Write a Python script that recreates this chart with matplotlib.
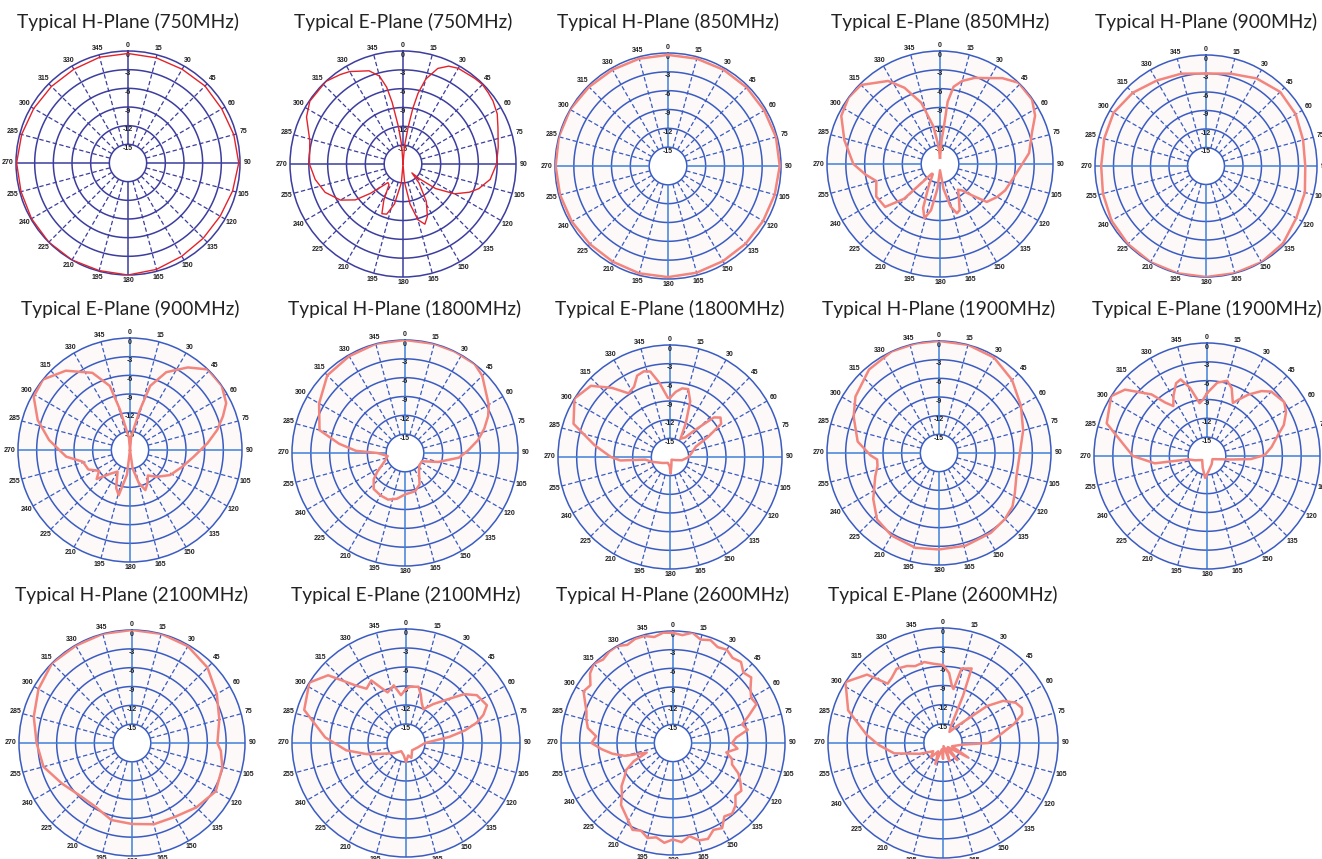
import numpy as np
import matplotlib.pyplot as plt

# panel titles
titles = ["Typical H-Plane (750MHz)", "Typical E-Plane (750MHz)", "Typical H-Plane (850MHz)",
          "Typical E-Plane (850MHz)", "Typical H-Plane (900MHz)", "Typical E-Plane (900MHz)",
          "Typical H-Plane (1800MHz)", "Typical E-Plane (1800MHz)", "Typical H-Plane (1900MHz)",
          "Typical E-Plane (1900MHz)", "Typical H-Plane (2100MHz)", "Typical E-Plane (2100MHz)",
          "Typical H-Plane (2600MHz)", "Typical E-Plane (2600MHz)"]

angle_ticks = list(range(0, 360, 15))
ring_levels = [0, -3, -6, -9, -12, -15]

# pattern data, angle (deg) / gain (dB)
h750_deg = list(range(0, 360, 15))
h750_db = [-0.4, -0.5, -0.6, -0.5, -0.6, -0.4, -0.2, -0.6, -0.9, -0.9, -0.7, -0.3,
           0.0, -0.1, 0.0, 0.0, -0.1, -0.2, -0.1, -0.3, -0.5, -0.6, -0.6, -0.4]

e750_deg = [0, 5, 8, 10, 12, 15, 20, 25, 30, 40, 45, 50, 55, 62, 69, 80, 90, 100, 108, 113,
            120, 127, 132, 135, 140, 148, 155, 160, 165, 170, 175, 180, 185, 192, 198, 203,
            208, 214, 219, 223, 228, 233, 240, 250, 260, 270, 284, 296, 304, 317, 325, 330,
            340, 345, 348, 350, 353, 356]
e750_db = [-18, -15, -12, -9, -6.5, -4, -1.8, -0.8, -0.4, -0.2, -0.1, -0.3, -0.5, -1.0, -1.8,
           -2.6, -3.1, -3.9, -5.3, -6.5, -8.5, -11.5, -14.5, -16, -14, -11, -8.8, -7.8, -8.8,
           -11.5, -15, -18, -15, -11.5, -9.6, -9.4, -11.5, -14, -14.2, -13.2, -11, -8.5, -6.5,
           -4.8, -3.8, -3.1, -2.7, -0.9, -0.1, 0.0, -0.6, -1.0, -2.2, -3.5, -5.5, -8, -12, -15]

h850_deg = list(range(0, 360, 15))
h850_db = [-0.3, -0.3, -0.3, -0.3, -0.3, -0.2, -0.2, -0.4, -0.5, -0.5, -0.5, -0.4,
           -0.3, -0.3, -0.4, -0.4, -0.3, -0.2, -0.1, 0.0, 0.0, -0.2, -0.3, -0.3]

e850_deg = [0, 4, 6, 7, 10, 15, 22, 28, 36, 44, 55, 63, 71, 83, 90, 102, 112, 120, 129, 134,
            140, 145, 150, 157, 161, 166, 172, 180, 186, 191, 196, 201, 207, 215, 220, 226,
            232, 243, 255, 262, 270, 284, 296, 306, 315, 328, 335, 343, 350, 355]
e850_db = [-17, -14, -12, -8, -5.5, -4.3, -3.2, -2.5, -1.1, 0.0, -0.1, -1.0, -2.5, -3.7, -4.9,
           -6.2, -6.8, -7.5, -8.4, -10.7, -12.5, -13, -12, -10, -9.7, -11, -14, -17, -14,
           -10.5, -9, -10.5, -14, -16, -16, -10, -6.9, -6.6, -7.5, -6, -4.2, -2.3, -0.5, 0.0,
           -0.2, -2.4, -4.6, -7.8, -11.9, -15]

h900_deg = list(range(0, 360, 15))
h900_db = [-3.0, -2.5, -1.6, -1.0, -1.2, -1.7, -1.9, -1.4, -1.1, -0.3, 0.0, 0.0,
           0.0, 0.0, 0.0, -0.1, -0.3, -0.7, -1.0, -0.9, -0.7, -1.2, -2.0, -2.5]

e900_deg = [0, 5, 9.5, 14, 17.5, 25, 35, 44, 55, 64, 70, 77, 85, 96, 108, 122, 135, 145, 152,
            159, 165, 172, 180, 187, 194, 200, 210, 220, 229, 236, 245, 256, 264, 277, 288,
            299, 309, 321, 334, 342.5, 346, 350, 355]
e900_db = [-18, -16, -14.7, -11.3, -7.2, -4.2, -1.8, 0.0, 0.0, -0.8, -2.1, -3.6, -5.5, -7.7,
           -9.2, -10.4, -11.9, -13, -12, -11.1, -12.5, -15, -18, -14, -10.5, -11.5, -14, -13,
           -10.9, -12, -10.6, -10.2, -7.7, -4.9, -2.4, -0.3, 0.0, -1.6, -4.2, -7.2, -11.3,
           -14.7, -16]

h1800_deg = [0, 15, 26, 38, 45, 51, 60, 66, 73, 80, 88, 95, 105, 116, 130, 143, 155, 165, 180,
             190, 200, 210, 221, 230, 236, 248, 260, 270, 272.5, 278, 285, 300, 315, 330, 345]
h1800_db = [0.0, 0.0, 0.0, 0.0, -0.6, -1.6, -2.6, -3.5, -4.8, -6.2, -8, -9.4, -12.5, -15, -15,
            -14.3, -12.5, -11.7, -11.4, -10.6, -10.1, -10.2, -10.4, -11.5, -12.7, -14.5, -15.2,
            -13.6, -10.2, -7.4, -3.9, -2.2, -0.5, -0.2, 0.0]

e1800_deg = [0, 5, 10, 15, 20, 25, 30, 38, 43, 48, 52, 57, 62, 68, 80, 90, 105, 120, 150, 172,
             178, 182, 200, 230, 255, 264, 266, 270, 279, 289, 301.5, 312, 320, 327, 333, 338,
             343, 347, 352, 358]
e1800_db = [-8.5, -7.5, -6.8, -6.7, -8.5, -12, -14.6, -14, -12, -8.5, -7.7, -8.2, -11, -13.5,
            -14.5, -15, -16, -17, -17.5, -16.5, -15.3, -16.5, -17, -16.5, -15, -14, -10, -8.5,
            -5.7, -1.6, 0.0, -0.9, -3.5, -5.8, -5.3, -3.9, -3.6, -3.9, -6, -8.5]

h1900_deg = [0, 15, 30, 45, 60, 75, 90, 107, 118, 126, 135, 147, 164, 180, 194, 210, 223, 235,
             250, 258, 264, 268, 278, 293, 304, 320, 335, 348]
h1900_db = [0.0, 0.0, -0.3, -1.4, -2.8, -4, -5, -5, -4.2, -3.4, -3, -2.7, -2.5, -2.5, -2.3,
            -2.7, -3.4, -5.1, -7.1, -7.9, -8, -7, -4.8, -3.1, -1.8, -0.5, 0.0, 0.0]

e1900_deg = [0, 8, 15, 20, 26, 30, 34, 40, 45, 55, 61, 68, 74, 82, 89, 94, 98, 105, 120, 150,
             175, 185, 200, 230, 250, 260, 262, 270, 277, 288, 302, 309, 318, 322, 326, 331,
             337, 341, 346, 352, 356]
e1900_db = [-8, -6.2, -5.6, -6.5, -8.6, -7.5, -6.2, -4.5, -3.5, -3.0, -3.6, -4.8, -6.3, -7.6,
            -8.8, -11, -14, -16, -17, -16.5, -15.5, -14.5, -16, -17, -16, -14.9, -9.6, -6.2,
            -4.8, -1.2, 0.0, -1.2, -4.8, -7.2, -8.4, -7, -5.4, -5.1, -6.8, -9.5, -9]

h2100_deg = [0, 15, 30, 45, 60, 75, 90, 95, 105, 120, 135, 150, 165, 180, 195, 210, 225, 240,
             255, 270, 285, 300, 315, 330, 345]
h2100_db = [0.0, 0.0, -0.2, -1.0, -2.4, -3.6, -4.4, -3.8, -3.1, -2.6, -3.5, -4.4, -4.6, -5.1,
            -5.3, -6.3, -6.2, -5.1, -3.4, -2.8, -1.8, -0.8, 0.0, -0.1, 0.0]

e2100_deg = [0, 4, 12.5, 17, 21, 27, 35, 44.5, 50, 56, 65, 70, 74, 78, 82, 90, 110, 140, 160,
             170, 180, 190, 210, 230, 245, 254, 263, 274, 288, 302, 311, 319, 324, 331, 336,
             340, 348, 354]
e2100_db = [-9.5, -9.1, -8.9, -10, -11.1, -12, -10.5, -8.2, -6, -4.5, -3.9, -5, -6.4, -8.5,
            -11.1, -15, -16, -16.5, -15.5, -16, -15, -16, -16.5, -15.5, -14, -11.6, -8.5, -5.2,
            -1.1, 0.0, -1.7, -6, -7.4, -6.7, -8.5, -9.5, -8.7, -10.4]

h2600_deg = list(range(0, 360, 5))
h2600_db = [-0.3, -0.6, 0.0, -0.8, -0.4, -1.0, -0.7, -1.3, -1.0, -2.0, -1.6, -2.8, -3.5, -3.2,
            -5.0, -6.5, -5.8, -7.8, -8.5, -7.6, -9.3, -8.2, -7.9, -6.4, -5.5, -4.6, -4.9, -3.8,
            -3.2, -3.6, -2.2, -2.6, -1.6, -1.8, -2.8, -2.0, -2.5, -1.9, -2.6, -2.2, -3.0, -2.6,
            -3.6, -4.4, -5.0, -6.4, -7.2, -8.5, -9.3, -11, -13.5, -10, -8.1, -6.5, -4.9, -5.6,
            -4.1, -3.6, -3.2, -2.4, -1.4, -1.8, -0.6, 0.0, -0.5, -0.1, 0.0, -0.6, -0.2, -0.2,
            -0.7, -0.2]

e2600_deg = [0, 5, 9, 11, 14, 21, 23, 25, 30, 40, 50, 55, 61, 66, 70, 75, 82, 90, 95, 110, 120,
             130, 140, 150, 160, 170, 180, 190, 200, 210, 220, 230, 245, 258, 268, 276, 289,
             302, 312, 317, 322, 328, 335, 340, 347, 353]
e2600_db = [-5.8, -7, -9, -9.4, -6, -5.5, -10, -15, -16, -14.5, -9, -6.5, -5, -4.5, -4.8, -6.5,
            -9, -10.9, -15, -16.5, -13.5, -17, -14.5, -17, -15, -17.5, -15.5, -17, -14.5,
            -16.5, -15, -16, -14, -10.2, -8, -6, -2.3, 0.0, -2, -5.3, -5, -4.3, -4.7, -5.2,
            -5, -5.5]

series_deg = [h750_deg, e750_deg, h850_deg, e850_deg, h900_deg, e900_deg, h1800_deg,
              e1800_deg, h1900_deg, e1900_deg, h2100_deg, e2100_deg, h2600_deg, e2600_deg]
series_db = [h750_db, e750_db, h850_db, e850_db, h900_db, e900_db, h1800_db,
             e1800_db, h1900_db, e1900_db, h2100_db, e2100_db, h2600_db, e2600_db]

# pixel layout of each chart: centre x, centre y, radius, title y
W, H = 1322, 859
layout = [(128, 163, 112, 22), (403, 164, 113, 22), (668, 166, 113, 22), (940, 164, 113, 22),
          (1206, 166, 111, 22), (130, 450, 112, 309), (405, 453, 113, 309), (670, 457, 112, 309),
          (939, 453, 112, 309), (1207, 456, 113, 309), (132, 743, 113, 595), (406, 743, 114, 595),
          (673, 743, 112, 595), (943, 743, 115, 595)]

fig = plt.figure(figsize=(W / 100, H / 100), dpi=100)
full = np.linspace(0, 2 * np.pi, 361)
lab_font = dict(fontsize=5, fontweight='bold', family='Liberation Sans', color='#222222',
                ha='center', va='center')

for i in range(14):
    cx, cy, rad, ty = layout[i]
    old = i < 2
    ring_col = '#3c3d9e' if old else '#3a5cc2'
    axis_col = '#3c3d9e' if old else '#3f80d8'
    red = '#e4222a' if old else '#f2857d'
    ax = fig.add_axes([(cx - rad) / W, (H - cy - rad) / H, 2 * rad / W, 2 * rad / H],
                      projection='polar')
    ax.set_theta_zero_location('N')
    ax.set_theta_direction(-1)
    ax.set_ylim(-18, 0)
    ax.grid(False)
    ax.set_yticks([])
    ax.set_xticks([])
    if not old:
        ax.set_facecolor('#fdf9f8')
    ax.spines['polar'].set_color(ring_col)
    ax.spines['polar'].set_linewidth(1.1)
    ax.fill_between(full, -18, -15, color='white', zorder=1)
    for rr in ring_levels[1:]:
        ax.plot(full, np.full_like(full, rr), color=ring_col, lw=1.1, zorder=2)
    for a in angle_ticks:
        th = np.deg2rad(a)
        if a % 90 == 0:
            ax.plot([th, th], [-15, 0], color=axis_col, lw=1.1, zorder=2)
        else:
            ax.plot([th, th], [-15, 0], color=ring_col, lw=0.9, ls=(0, (3.5, 2)), zorder=2)
        # angle label just outside the rim
        off_px = 5.5 + 2.5 * abs(np.sin(th))
        ax.text(th, off_px / rad * 18, str(a), clip_on=False, **lab_font)
    for rr in ring_levels:
        ax.text(0, rr - 0.65, str(rr), zorder=3, **lab_font)
    deg = series_deg[i] + [series_deg[i][0] + 360]
    db = series_db[i] + [series_db[i][0]]
    ax.plot(np.deg2rad(deg), db, color=red, lw=1.0 if old else 1.8, zorder=4)
    fig.text(cx / W, 1 - ty / H, titles[i], fontsize=13.8, family='Lato', color='#222222',
             ha='center', va='center')

fig.savefig('out.png', dpi=100)
